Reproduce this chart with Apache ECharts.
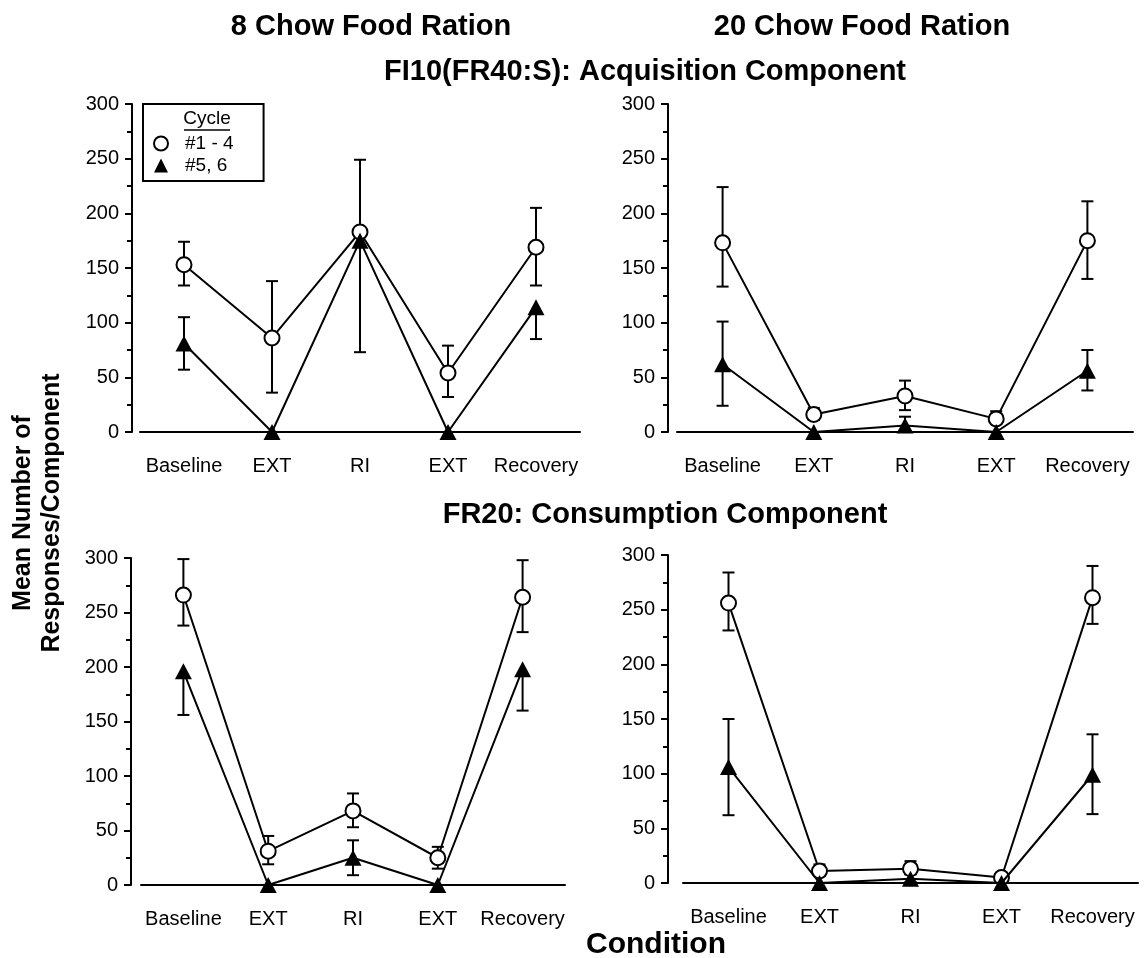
<!DOCTYPE html>
<html>
<head>
<meta charset="utf-8">
<script src="https://cdn.jsdelivr.net/npm/echarts@6/dist/echarts.min.js"></script>
<style>
html,body{margin:0;padding:0;background:#fff;}
#chart{width:1146px;height:958px;}
</style>
</head>
<body>
<div id="chart"></div>
<script>
// ---------------- DATA ----------------
const categories = ['Baseline', 'EXT', 'RI', 'EXT', 'Recovery'];
const seriesNames = ['#1 - 4', '#5, 6'];

// FI10(FR40:S) Acquisition, 8 chow
const acq8_c14_mean = [153, 86, 183, 54, 169];
const acq8_c14_hi   = [174, 138, 249, 79, 205];
const acq8_c14_lo   = [134, 36, 73, 32, 134];
const acq8_c56_mean = [81, 0, 175, 0, 114];
const acq8_c56_hi   = [105, null, null, null, null];
const acq8_c56_lo   = [57, null, null, null, 85];

// FI10(FR40:S) Acquisition, 20 chow
const acq20_c14_mean = [173, 16, 33, 12, 175];
const acq20_c14_hi   = [224, 22, 47, 19, 211];
const acq20_c14_lo   = [133, 11, 20, 8, 140];
const acq20_c56_mean = [62, 0, 6, 0, 56];
const acq20_c56_hi   = [101, null, 14, null, 75];
const acq20_c56_lo   = [24, null, null, null, 38];

// FR20 Consumption, 8 chow
const con8_c14_mean = [266, 31, 68, 25, 264];
const con8_c14_hi   = [299, 45, 84, 35, 298];
const con8_c14_lo   = [238, 19, 53, 15, 232];
const con8_c56_mean = [196, 0, 25, 0, 198];
const con8_c56_hi   = [null, null, 41, null, null];
const con8_c56_lo   = [156, null, 9, null, 160];

// FR20 Consumption, 20 chow
const con20_c14_mean = [256, 11, 13, 5, 261];
const con20_c14_hi   = [284, 17, 20, 8, 290];
const con20_c14_lo   = [231, 7, 8, 3, 237];
const con20_c56_mean = [106, 0, 4, 0, 99];
const con20_c56_hi   = [150, null, 8, null, 136];
const con20_c56_lo   = [62, null, 1, null, 63];

const yMin = 0, yMax = 300, yInterval = 50;

// ---------------- LAYOUT ----------------
const FONT = "'Liberation Sans', Arial, Helvetica, sans-serif";
const panels = [
  { grid: {left: 140, top: 104, width: 440, height: 328}, yOffset: 8,
    groups: [[acq8_c14_mean, acq8_c14_hi, acq8_c14_lo], [acq8_c56_mean, acq8_c56_hi, acq8_c56_lo]] },
  { grid: {left: 677, top: 104, width: 456, height: 328}, yOffset: 9,
    groups: [[acq20_c14_mean, acq20_c14_hi, acq20_c14_lo], [acq20_c56_mean, acq20_c56_hi, acq20_c56_lo]] },
  { grid: {left: 141, top: 558, width: 424, height: 327}, yOffset: 10,
    groups: [[con8_c14_mean, con8_c14_hi, con8_c14_lo], [con8_c56_mean, con8_c56_hi, con8_c56_lo]] },
  { grid: {left: 683, top: 555, width: 455, height: 328}, yOffset: 15,
    groups: [[con20_c14_mean, con20_c14_hi, con20_c14_lo], [con20_c56_mean, con20_c56_hi, con20_c56_lo]] }
];

const markerStyles = [
  { symbol: 'circle', symbolSize: 15, itemStyle: {color: '#fff', borderColor: '#000', borderWidth: 2}, z: 3 },
  { symbol: 'triangle', symbolSize: [17, 16], itemStyle: {color: '#000', borderColor: '#000', borderWidth: 0}, z: 4 }
];

function errRender(params, api) {
  const x = api.value(0), m = api.value(1), hi = api.value(2), lo = api.value(3);
  const children = [];
  const cap = 6;
  const pm = api.coord([x, m]);
  [hi, lo].forEach(function (v) {
    if (v === m || isNaN(v)) return;
    const p = api.coord([x, v]);
    children.push({ type: 'line', shape: {x1: pm[0], y1: pm[1], x2: p[0], y2: p[1]},
      style: {stroke: '#000', lineWidth: 2} });
    children.push({ type: 'line', shape: {x1: p[0] - cap, y1: p[1], x2: p[0] + cap, y2: p[1]},
      style: {stroke: '#000', lineWidth: 2} });
  });
  return { type: 'group', children: children };
}

const grids = [], xAxes = [], yAxes = [], series = [];
panels.forEach(function (p, i) {
  grids.push(Object.assign({containLabel: false}, p.grid));
  xAxes.push({
    type: 'category', gridIndex: i, data: categories, boundaryGap: true,
    axisLine: {lineStyle: {color: '#000', width: 2}},
    axisTick: {alignWithLabel: true, length: 9, lineStyle: {color: '#000', width: 2}},
    axisLabel: {color: '#000', fontSize: 20, fontFamily: FONT, margin: 24, interval: 0},
    splitLine: {show: false}
  });
  yAxes.push({
    type: 'value', gridIndex: i, min: yMin, max: yMax, interval: yInterval, offset: p.yOffset,
    axisLine: {show: true, lineStyle: {color: '#000', width: 2}},
    axisTick: {show: true, length: 7, lineStyle: {color: '#000', width: 2}},
    minorTick: {show: true, splitNumber: 2, length: 5, lineStyle: {color: '#000', width: 2}},
    axisLabel: {color: '#000', fontSize: 20, fontFamily: FONT, margin: 13},
    splitLine: {show: false}
  });
  p.groups.forEach(function (g, k) {
    const mean = g[0], hi = g[1], lo = g[2];
    const ms = markerStyles[k];
    series.push({
      type: 'line', name: seriesNames[k], xAxisIndex: i, yAxisIndex: i,
      data: mean, symbol: ms.symbol, symbolSize: ms.symbolSize, showAllSymbol: true,
      itemStyle: ms.itemStyle, lineStyle: {color: '#000', width: 2}, z: ms.z,
      emphasis: {disabled: true}, clip: false
    });
    series.push({
      type: 'custom', name: 'err' + i + '_' + k, xAxisIndex: i, yAxisIndex: i,
      renderItem: errRender, z: 1, silent: true, clip: false,
      data: mean.map(function (m, j) {
        return [j, m, hi[j] == null ? m : hi[j], lo[j] == null ? m : lo[j]];
      })
    });
  });
});

const chart = echarts.init(document.getElementById('chart'), null, {renderer: 'canvas'});
chart.setOption({
  animation: false,
  backgroundColor: '#fff',
  grid: grids,
  xAxis: xAxes,
  yAxis: yAxes,
  series: series,
  legend: {
    data: [
      {name: '#1 - 4', icon: 'circle', itemStyle: {color: '#fff', borderColor: '#000', borderWidth: 2}},
      {name: '#5, 6', icon: 'triangle', itemStyle: {color: '#000', borderWidth: 0}}
    ],
    orient: 'vertical', left: 143, top: 104, padding: [30, 30, 6, 10],
    itemWidth: 14, itemHeight: 14, itemGap: 3,
    borderColor: '#000', borderWidth: 2, selectedMode: false,
    textStyle: {fontSize: 19, color: '#000', fontFamily: FONT, padding: [0, 0, 0, 12]}
  },
  graphic: [
    {type: 'text', x: 371, y: 27, style: {text: '8 Chow Food Ration', font: 'bold 29px ' + FONT, fill: '#000', align: 'center', verticalAlign: 'middle'}},
    {type: 'text', x: 862, y: 27, style: {text: '20 Chow Food Ration', font: 'bold 29px ' + FONT, fill: '#000', align: 'center', verticalAlign: 'middle'}},
    {type: 'text', x: 645, y: 72, style: {text: 'FI10(FR40:S): Acquisition Component', font: 'bold 29px ' + FONT, fill: '#000', align: 'center', verticalAlign: 'middle'}},
    {type: 'text', x: 665, y: 515, style: {text: 'FR20: Consumption Component', font: 'bold 29px ' + FONT, fill: '#000', align: 'center', verticalAlign: 'middle'}},
    {type: 'text', x: 656, y: 945, style: {text: 'Condition', font: 'bold 30px ' + FONT, fill: '#000', align: 'center', verticalAlign: 'middle'}},
    {type: 'text', x: 38, y: 513, rotation: Math.PI / 2, style: {text: 'Mean Number of\nResponses/Component', font: 'bold 25px ' + FONT, lineHeight: 29, fill: '#000', align: 'center', verticalAlign: 'middle'}},
    {type: 'text', x: 207, y: 119, style: {text: 'Cycle', font: '19px ' + FONT, fill: '#000', align: 'center', verticalAlign: 'middle'}},
    {type: 'line', shape: {x1: 184, y1: 130, x2: 230, y2: 130}, style: {stroke: '#000', lineWidth: 1.5}}
  ]
});
</script>
</body>
</html>
